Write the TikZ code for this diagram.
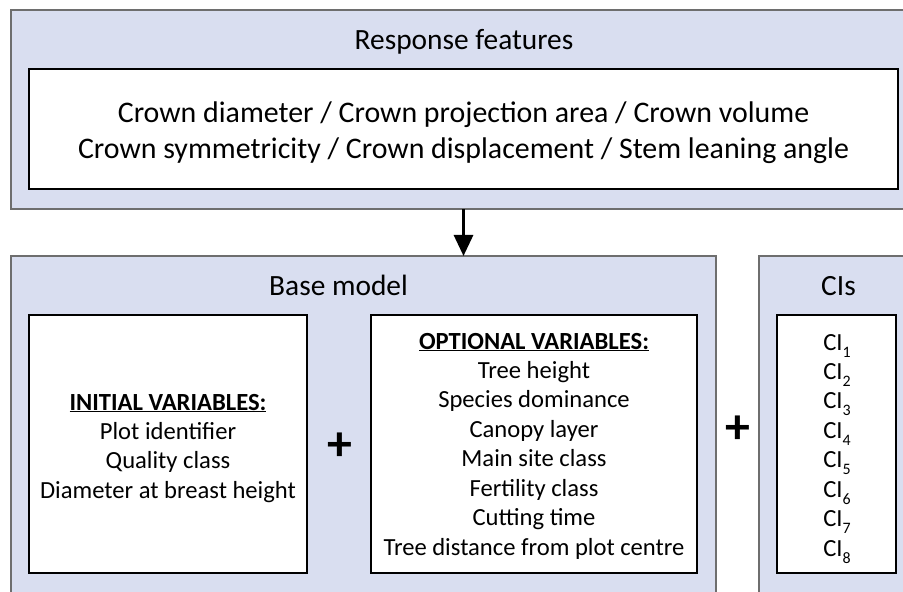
\documentclass[tikz,border=0pt]{standalone}
\usepackage{fontspec}
\setmainfont{Carlito}
\usetikzlibrary{arrows.meta}
\definecolor{bgblue}{HTML}{D9DEF0}
\definecolor{edgegray}{HTML}{6E6E6E}
\newcommand\cisub[1]{\raisebox{-7bp}{\fontsize{16}{16}\selectfont #1}}
\begin{document}
\begin{tikzpicture}[x=1bp,y=-1bp,
  outerbox/.style={draw=edgegray, line width=1.3bp, fill=bgblue, anchor=north west, inner sep=0pt, outer sep=0pt},
  innerbox/.style={draw=black, line width=2.8bp, fill=white, anchor=north west, inner sep=0pt, outer sep=0pt},
  title/.style={anchor=base, inner sep=0pt, font=\fontsize{29.5}{34}\selectfont},
  bigtext/.style={anchor=base, inner sep=0pt, font=\fontsize{30}{36}\selectfont},
  listtext/.style={anchor=base, inner sep=0pt, font=\fontsize{24.7}{29.6}\selectfont},
  plus/.style={inner sep=0pt, font=\fontsize{50}{50}\selectfont\bfseries},
  flow/.style={line width=3bp, -{Triangle[length=21bp,width=19bp]}}]
\useasboundingbox (0,0) rectangle (903,592);
\clip (0,0) rectangle (903,592);
% top block
\node[outerbox, minimum width=906bp, minimum height=199bp] (resp) at (11,10) {};
\node[innerbox, minimum width=869bp, minimum height=120bp] (respin) at (29,69) {};
\node[title] (resptitle) at (464,50) {Response features};
\node[bigtext] (resptext) at (463.5,123) {\begin{tabular}[t]{@{}c@{}}Crown diameter / Crown projection area / Crown volume\\ Crown symmetricity / Crown displacement / Stem leaning angle\end{tabular}};
% base model block
\node[outerbox, minimum width=705bp, minimum height=360bp] (base) at (11,256) {};
\node[title] (basetitle) at (338.5,295) {Base model};
\node[innerbox, minimum width=278bp, minimum height=258bp] (initial) at (29,315) {};
\node[innerbox, minimum width=326bp, minimum height=258bp] (optional) at (371,315) {};
\node[listtext] (inittext) at (168,410) {\begin{tabular}[t]{@{}c@{}}\underline{\textbf{INITIAL VARIABLES:}}\\ Plot identifier\\ Quality class\\ Diameter at breast height\end{tabular}};
\node[listtext] (opttext) at (534,349) {\begin{tabular}[t]{@{}c@{}}\underline{\textbf{OPTIONAL VARIABLES:}}\\ Tree height\\ Species dominance\\ Canopy layer\\ Main site class\\ Fertility class\\ Cutting time\\ Tree distance from plot centre\end{tabular}};
\node[plus] (plusa) at (339.5,447) {+};
% CIs block
\node[outerbox, minimum width=170bp, minimum height=360bp] (cis) at (759,256) {};
\node[title] (cistitle) at (838.5,295) {CIs};
\node[innerbox, minimum width=119bp, minimum height=258bp] (cisin) at (777,315) {};
\node[listtext] (cistext) at (837,350) {\begin{tabular}[t]{@{}c@{}}CI\cisub{1}\\ CI\cisub{2}\\ CI\cisub{3}\\ CI\cisub{4}\\ CI\cisub{5}\\ CI\cisub{6}\\ CI\cisub{7}\\ CI\cisub{8}\end{tabular}};
\node[plus] (plusb) at (737.5,430) {+};
% connector
\draw[flow] (resp.south -| respin.south) -- (base.north -| respin.south);
\end{tikzpicture}
\end{document}
